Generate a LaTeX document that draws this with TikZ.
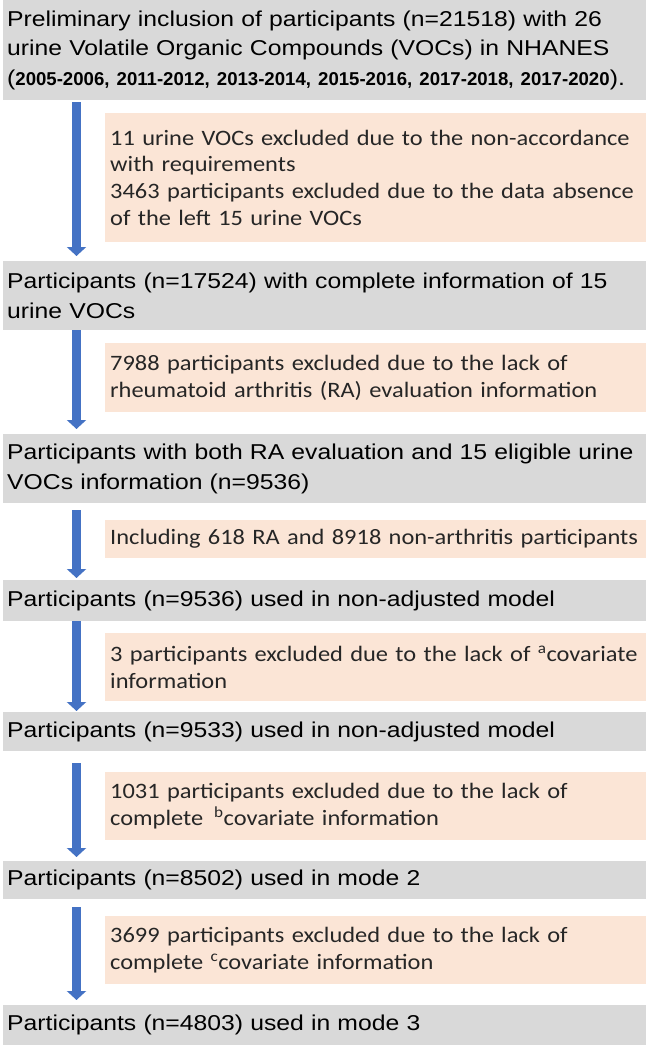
\documentclass[tikz,border=0pt]{standalone}
\usepackage{fontspec}
\setmainfont{Liberation Sans}[FakeStretch=1.15]
\newfontfamily\yearfont{Liberation Sans}
\newfontfamily\calibri{Carlito}[FakeStretch=1.11]
\usepackage{tikz}
\usetikzlibrary{arrows.meta}
\definecolor{boxgray}{HTML}{D9D9D9}
\definecolor{boxpink}{HTML}{FBE5D6}
\definecolor{flowblue}{HTML}{4472C4}
\tikzstyle{graybox} = [fill=boxgray, anchor=north west, inner xsep=4pt, inner ysep=0pt, text width=635pt, align=left, font=\fontsize{21.5}{29.5}\selectfont]
\tikzstyle{pinkbox} = [fill=boxpink, anchor=north west, inner xsep=5pt, inner ysep=0pt, text width=531pt, align=left, text=black!85, font=\calibri\fontsize{22}{26.7}\selectfont]
\tikzstyle{flow} = [-{Triangle[width=19pt,length=9pt]}, draw=flowblue, line width=9pt]

\begin{document}
\begin{tikzpicture}[x=1pt,y=1pt]
\useasboundingbox (0,0) rectangle (649,-1047);
\coordinate (col) at (76.5,0);
\node[graybox, minimum height=100pt] (g1) at (3,0) {Preliminary inclusion of participants (n=21518) with 26\\urine Volatile Organic Compounds (VOCs) in NHANES\\\mbox{({\yearfont\fontsize{18.6}{29.5}\selectfont\bfseries 2005-2006, 2011-2012, 2013-2014, 2015-2016, 2017-2018, 2017-2020}).}};
\node[pinkbox, minimum height=129pt] (p1) at (105,-113) {11 urine VOCs excluded due to the non-accordance\\with requirements\\3463 participants excluded due to the data absence\\of the left 15 urine VOCs};
\node[graybox, minimum height=69pt] (g2) at (3,-261) {Participants (n=17524) with complete information of 15\\urine VOCs};
\node[pinkbox, minimum height=69pt] (p2) at (105,-343) {7988 participants excluded due to the lack of\\rheumatoid arthritis (RA) evaluation information};
\node[graybox, minimum height=69pt] (g3) at (3,-434) {Participants with both RA evaluation and 15 eligible urine\\VOCs information (n=9536)};
\node[pinkbox, minimum height=38pt] (p3) at (105,-520) {\mbox{Including 618 RA and 8918 non-arthritis participants}};
\node[graybox, minimum height=41pt] (g4) at (3,-580) {Participants (n=9536) used in non-adjusted model};
\node[pinkbox, minimum height=68pt] (p4) at (105,-633) {3 participants excluded due to the lack of \textsuperscript{a}covariate\\information};
\node[graybox, minimum height=39pt] (g5) at (3,-712) {Participants (n=9533) used in non-adjusted model};
\node[pinkbox, minimum height=68pt] (p5) at (105,-772) {1031 participants excluded due to the lack of\\complete \,\textsuperscript{b}covariate information};
\node[graybox, minimum height=38pt] (g6) at (3,-861) {Participants (n=8502) used in mode 2};
\node[pinkbox, minimum height=68pt] (p6) at (105,-916) {3699 participants excluded due to the lack of\\complete \textsuperscript{c}covariate information};
\node[graybox, minimum height=40pt] (g7) at (3,-1005) {Participants (n=4803) used in mode 3};
% flow arrows
\draw [flow, shorten <=2pt, shorten >=5pt] (g1.south -| col) -- (g2.north -| col);
\draw [flow, shorten <=0pt, shorten >=5pt] (g2.south -| col) -- (g3.north -| col);
\draw [flow, shorten <=7pt, shorten >=2pt] (g3.south -| col) -- (g4.north -| col);
\draw [flow, shorten <=0pt, shorten >=1pt] (g4.south -| col) -- (g5.north -| col);
\draw [flow, shorten <=12pt, shorten >=4pt] (g5.south -| col) -- (g6.north -| col);
\draw [flow, shorten <=8pt, shorten >=5pt] (g6.south -| col) -- (g7.north -| col);
\end{tikzpicture}
\end{document}
